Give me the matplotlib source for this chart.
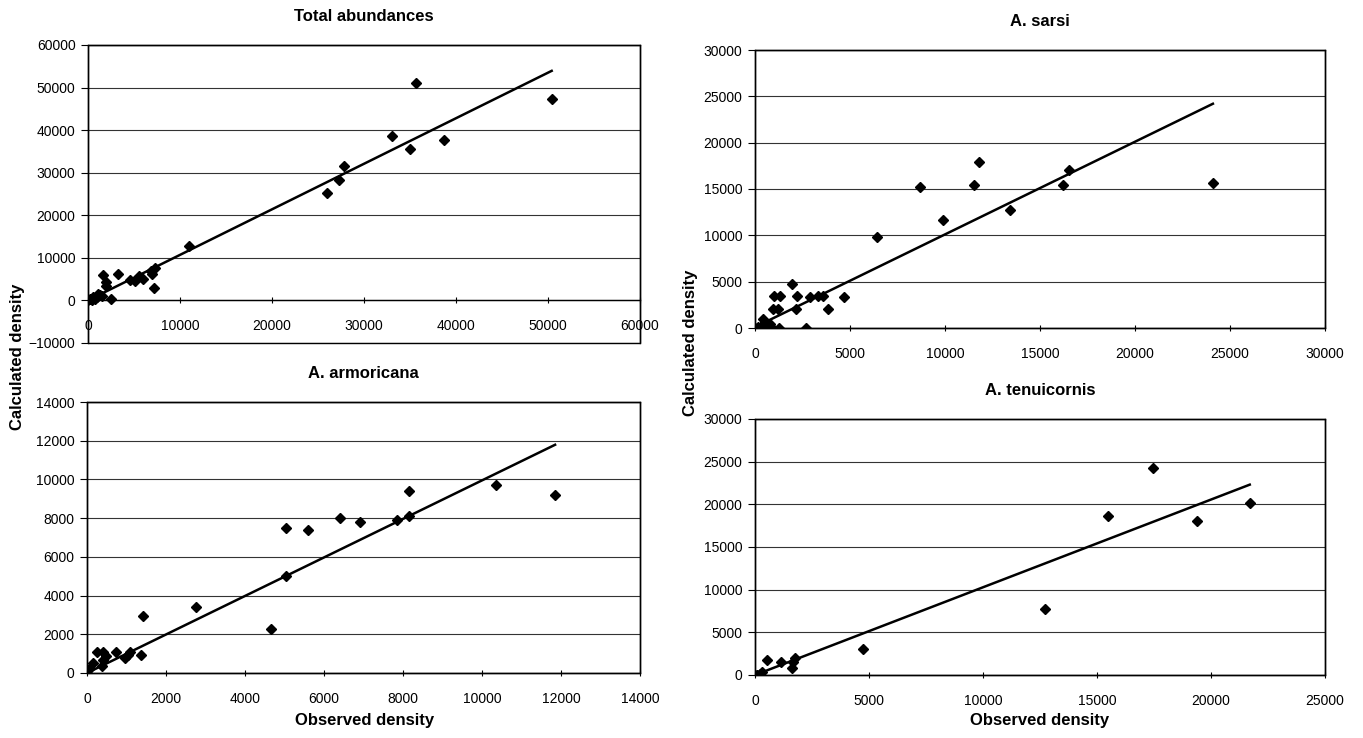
import matplotlib
matplotlib.use("Agg")
import matplotlib.pyplot as plt
from matplotlib.patches import Rectangle
import numpy as np

plt.rcParams['font.family'] = ['Liberation Sans', 'DejaVu Sans']

# Total abundances
obs_total = [50400, 35700, 33000, 35000, 38700, 27800, 27300, 26000, 11000, 7300,
             7000, 7200, 6800, 5950, 5520, 5160, 4520, 3260, 1650, 2000, 1930, 2470,
             1290, 930, 570, 200, 0, 400, 750, 1100, 1500]
calc_total = [47200, 51000, 38700, 35500, 37800, 31500, 28200, 25200, 12900, 7700,
              6300, 3000, 6800, 5100, 5700, 4500, 4850, 6300, 6000, 4300, 3500, 400,
              1200, 800, 800, 400, 0, 100, 300, 1500, 1000]
fit_total = (1.07, 0)

# A. sarsi
obs_sarsi = [24100, 16500, 16200, 13400, 11800, 11500, 9900, 8700, 6400, 1960, 1000,
             1320, 2190, 2890, 3330, 3560, 4700, 3860, 2160, 960, 1230, 440, 2680, 1280,
             790, 0, 150, 300, 600, 900, 500]
calc_sarsi = [15700, 17100, 15400, 12700, 17900, 15400, 11700, 15200, 9800, 4700, 3400,
              3500, 3400, 3300, 3500, 3500, 3300, 2100, 2100, 2100, 2000, 1000, 0, 0,
              400, 0, 100, 0, 200, 0, 600]
fit_sarsi = (1.0, 100)

# A. armoricana
obs_arm = [11850, 10350, 8150, 8150, 7850, 6900, 6400, 5600, 5050, 5050, 4650, 2760,
           1430, 1370, 1050, 1090, 960, 730, 260, 400, 480, 410, 370, 140, 0, 60]
calc_arm = [9200, 9700, 9400, 8100, 7900, 7800, 8000, 7400, 7500, 5000, 2270, 3400,
            2950, 920, 940, 1100, 800, 1110, 1060, 1060, 860, 690, 380, 520, 80, 200]
fit_arm = (0.995, 0)

# A. tenuicornis
obs_ten = [21700, 19400, 17450, 15500, 12700, 4750, 1750, 1650, 1610, 1140, 510, 300,
           200, 100, 0]
calc_ten = [20200, 18000, 24300, 18600, 7700, 3060, 2000, 1500, 800, 1550, 1700, 300,
            100, 0, 0]
fit_ten = (1.028, 0)

panels = [
    ("Total abundances", obs_total, calc_total, fit_total, (-10000, 60000, 10000), (0, 60000, 10000),
     [88 / 1363, 1 - 343 / 738, 552 / 1363, 298 / 738]),
    ("A. sarsi", obs_sarsi, calc_sarsi, fit_sarsi, (0, 30000, 5000), (0, 30000, 5000),
     [755 / 1363, 1 - 328 / 738, 570 / 1363, 278 / 738]),
    ("A. armoricana", obs_arm, calc_arm, fit_arm, (0, 14000, 2000), (0, 14000, 2000),
     [87 / 1363, 1 - 673 / 738, 553 / 1363, 271 / 738]),
    ("A. tenuicornis", obs_ten, calc_ten, fit_ten, (0, 30000, 5000), (0, 25000, 5000),
     [755 / 1363, 1 - 675 / 738, 570 / 1363, 256 / 738]),
]

fig = plt.figure(figsize=(13.63, 7.38), dpi=100)

for title, obs, calc, fit, ylim, xlim, pos in panels:
    ax = fig.add_axes(pos)
    ax.set_xlim(xlim[0], xlim[1])
    ax.set_ylim(ylim[0], ylim[1])
    ax.set_xticks(np.arange(xlim[0], xlim[1] + 1, xlim[2]))
    ax.set_yticks(np.arange(ylim[0], ylim[1] + 1, ylim[2]))
    ax.yaxis.grid(True, color='#333333', linewidth=0.8)
    ax.set_axisbelow(True)

    # x axis crosses at y = 0
    ax.spines['bottom'].set_position(('data', 0))
    for s in ax.spines.values():
        s.set_linewidth(1.0)
        s.set_color('black')
    ax.add_patch(Rectangle((0, 0), 1, 1, transform=ax.transAxes, fill=False,
                           edgecolor='black', linewidth=1.0, clip_on=False))

    ax.tick_params(axis='y', direction='out', length=5, labelsize=10, pad=4)
    ax.tick_params(axis='x', direction='inout', length=5, labelsize=10, pad=11)

    ax.plot(obs, calc, linestyle='none', marker='D', markersize=5.5, color='black', zorder=3)

    xs = np.array([min(obs), max(obs)])
    ax.plot(xs, fit[0] * xs + fit[1], color='black', linewidth=1.8, zorder=4)

    ax.set_title(title, fontsize=12, fontweight='bold', pad=17)

fig.text(18 / 1363, 1 - 357 / 738, "Calculated density", rotation=90, ha='center', va='center',
         fontsize=12, fontweight='bold')
fig.text(690 / 1363, 1 - 343 / 738, "Calculated density", rotation=90, ha='center', va='center',
         fontsize=12, fontweight='bold')
fig.text(365 / 1363, 1 - 720 / 738, "Observed density", ha='center', va='center',
         fontsize=12, fontweight='bold')
fig.text(1040 / 1363, 1 - 720 / 738, "Observed density", ha='center', va='center',
         fontsize=12, fontweight='bold')

fig.savefig("out.png", dpi=100)
